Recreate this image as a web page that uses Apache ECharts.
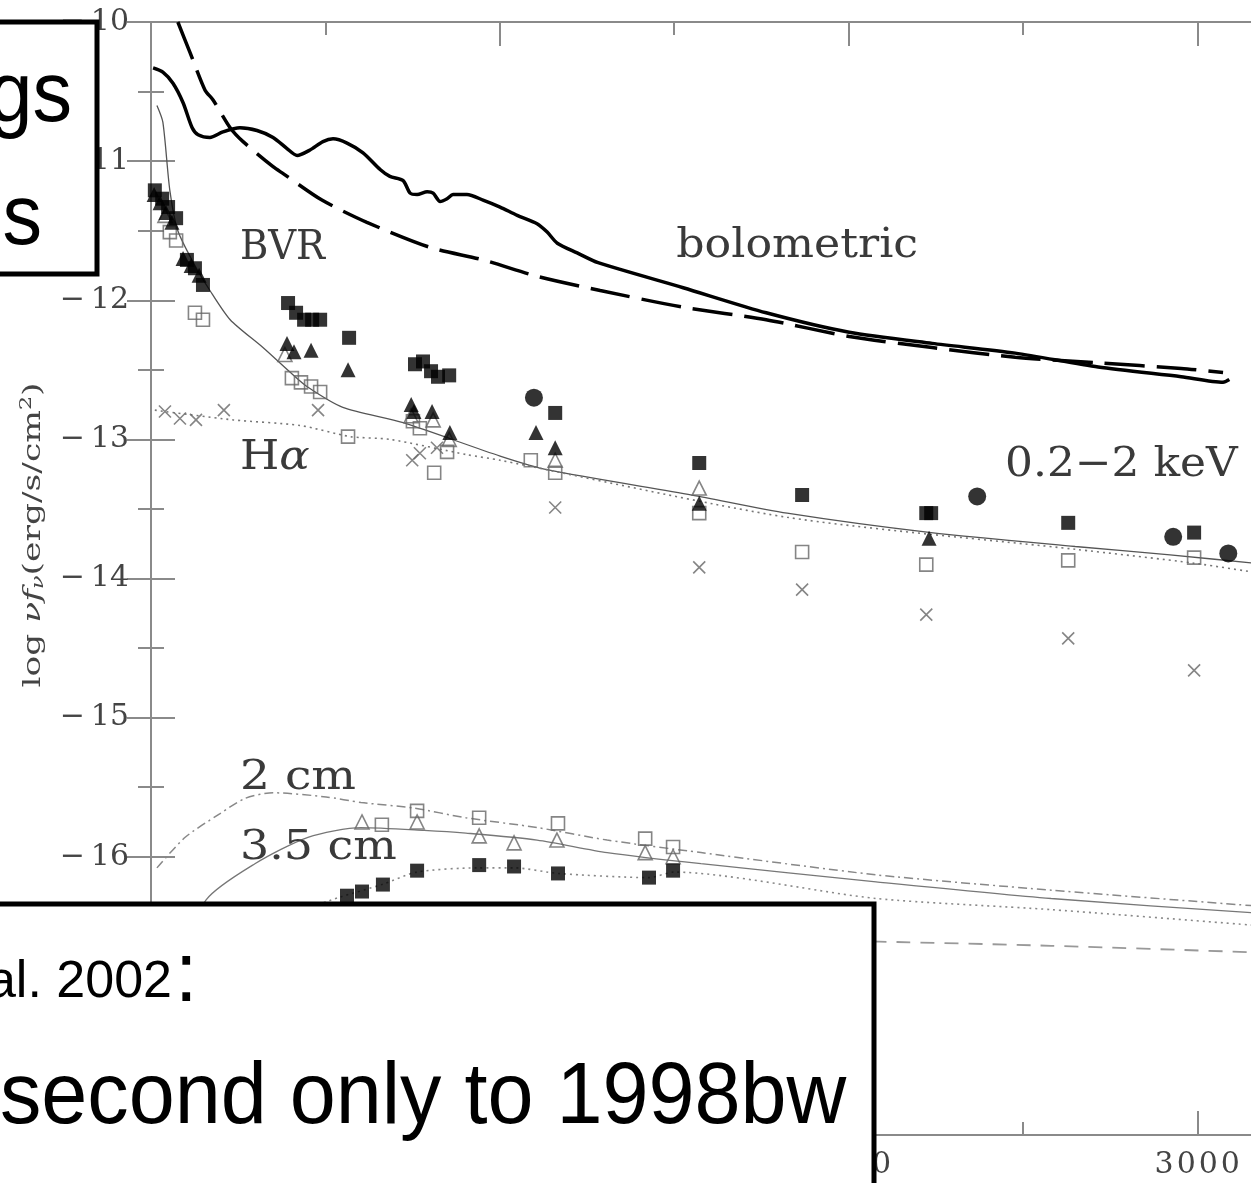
<!DOCTYPE html>
<html><head><meta charset="utf-8">
<script src="https://cdn.jsdelivr.net/npm/echarts@6/dist/echarts.min.js"></script>
<style>html,body{margin:0;padding:0;background:#fff;overflow:hidden}#c{width:1251px;height:1183px;}</style>
</head><body><div id="c"></div><script>
// ---------- data (days since explosion, log nu f_nu) ----------
const boloSolidDay = [6,34,63,92,118,135,169,206,255,304,350,390,419,456,493,522,562,608,657,685,723,743,763,792,809,829,849,866,906,952,1001,1050,1107,1136,1165,1222,1282,1526,1764,2002,2240,2478,2716,2954,3074,3092];
const boloSolidLog = [-10.33,-10.36,-10.44,-10.58,-10.76,-10.81,-10.83,-10.79,-10.76,-10.78,-10.83,-10.91,-10.96,-10.92,-10.86,-10.84,-10.87,-10.94,-11.06,-11.11,-11.14,-11.23,-11.24,-11.22,-11.23,-11.29,-11.27,-11.24,-11.24,-11.28,-11.33,-11.39,-11.45,-11.51,-11.59,-11.66,-11.73,-11.91,-12.09,-12.23,-12.31,-12.38,-12.48,-12.55,-12.59,-12.57];
const boloDashDay = [77,112,155,178,227,264,350,379,490,619,800,952,1110,1288,1526,1764,2002,2240,2478,2716,2954,3074];
const boloDashLog = [-10.0,-10.22,-10.49,-10.56,-10.76,-10.86,-11.04,-11.09,-11.28,-11.44,-11.62,-11.71,-11.83,-11.93,-12.05,-12.14,-12.26,-12.34,-12.41,-12.45,-12.49,-12.52];
const optModelDay = [17,34,54,77,126,169,227,321,400,447,550,723,1001,1139,1551,1824,2237,2650,2922,3200];
const optModelLog = [-10.6,-10.72,-11.21,-11.5,-11.75,-11.93,-12.14,-12.34,-12.52,-12.62,-12.77,-12.88,-13.12,-13.22,-13.4,-13.53,-13.67,-13.77,-13.83,-13.9];
const haModelDay = [11,235,427,571,685,906,1001,1824,2650,2991,3200];
const haModelLog = [-12.79,-12.86,-12.9,-12.98,-13.0,-13.11,-13.15,-13.56,-13.79,-13.89,-13.97];
const cm2ModelDay = [17,98,198,270,350,502,602,754,903,1107,1308,1577,2079,2581,3200];
const cm2ModelLog = [-16.08,-15.86,-15.69,-15.58,-15.54,-15.57,-15.61,-15.65,-15.72,-15.79,-15.88,-15.97,-16.13,-16.24,-16.36];
const cm35ModelDay = [40,158,298,450,602,783,903,1107,1308,1577,2079,2581,3200];
const cm35ModelLog = [-16.95,-16.31,-16.05,-15.86,-15.79,-15.81,-15.83,-15.88,-15.97,-16.05,-16.18,-16.3,-16.41];
const cm6ModelDay = [300,542,662,763,935,1044,1167,1428,1500,2079,2581,3200];
const cm6ModelLog = [-16.5,-16.29,-16.2,-16.11,-16.08,-16.08,-16.12,-16.15,-16.11,-16.3,-16.38,-16.5];
const cm20ModelDay = [900,1500,2088,2581,3200];
const cm20ModelLog = [-16.5,-16.58,-16.61,-16.64,-16.69];

const fSqDay = [11,32,49,72,103,126,149,393,416,439,462,485,568,757,780,803,823,855,1159,1572,1867,2223,2237,2630,2991];
const fSqLog = [-11.21,-11.27,-11.33,-11.41,-11.71,-11.77,-11.89,-12.02,-12.09,-12.14,-12.14,-12.14,-12.27,-12.46,-12.44,-12.51,-12.55,-12.54,-12.81,-13.17,-13.4,-13.53,-13.53,-13.6,-13.67];
const fTriDay = [9,26,43,60,92,115,138,390,410,459,565,746,754,806,857,1104,1159,1572,2231];
const fTriLog = [-11.24,-11.3,-11.37,-11.44,-11.7,-11.75,-11.82,-12.31,-12.37,-12.36,-12.5,-12.75,-12.8,-12.8,-12.95,-12.95,-13.06,-13.46,-13.71];
const oSqDay = [54,72,126,149,404,430,459,485,565,751,771,812,849,1089,1159,1572,1867,2223,2630,2991];
const oSqLog = [-11.51,-11.57,-12.09,-12.14,-12.56,-12.59,-12.62,-12.66,-12.98,-12.87,-12.92,-13.24,-13.09,-13.15,-13.24,-13.53,-13.81,-13.9,-13.87,-13.85];
const oTriDay = [40,384,746,809,855,1159,1572];
const oTriLog = [-11.39,-12.39,-12.83,-12.86,-13.0,-13.15,-13.35];
const haDay = [40,83,129,209,479,749,771,820,1159,1572,1867,2223,2630,2991];
const haLog = [-12.8,-12.85,-12.86,-12.79,-12.79,-13.15,-13.1,-13.06,-13.49,-13.92,-14.08,-14.26,-14.43,-14.66];
const xrayDay = [1098,2369,2931,3089];
const xrayLog = [-12.7,-13.41,-13.7,-13.82];
const r2Day = [662,763,941,1167,1417,1497];
const r2Log = [-15.77,-15.67,-15.72,-15.76,-15.87,-15.93];
const r35Day = [605,763,941,1041,1164,1417,1497];
const r35Log = [-15.75,-15.75,-15.85,-15.9,-15.88,-15.97,-16.0];
const r6Day = [562,605,665,763,941,1041,1167,1428,1497];
const r6Log = [-16.28,-16.25,-16.2,-16.1,-16.06,-16.07,-16.12,-16.15,-16.1];

const xTicks = [0, 1000, 2000, 3000];
const yTicks = [-18, -17, -16, -15, -14, -13, -12, -11, -10];

const labelsText = ['BVR', 'bolometric', 'H\u03b1', '0.2\u22122 keV', '2 cm', '3.5 cm'];
const labelsDay = [255, 1506, 255, 2449, 255, 255];
const labelsLog = [-11.625, -11.61, -13.134, -13.19, -15.435, -15.94];

// ---------- chart ----------
const zip = (a, b) => a.map((v, i) => [v, b[i]]);
const chart = echarts.init(document.getElementById('c'), null, {renderer: 'canvas'});
const AX = '#8a8a8a';
const serifLab = {fontFamily: 'DejaVu Serif', fontSize: 30, color: '#444'};
function xAx(pos, showLabel) {
  return {type: 'value', min: xTicks[0], max: 3200, interval: 1000, position: pos,
    axisLine: {lineStyle: {color: AX, width: 2}},
    axisTick: {inside: true, length: 24, lineStyle: {color: AX, width: 2}},
    minorTick: {show: true, splitNumber: 2, length: 13, lineStyle: {color: AX, width: 2}},
    splitLine: {show: false},
    axisLabel: Object.assign({show: showLabel, margin: 15, showMaxLabel: false,
      formatter: v => xTicks.includes(v) ? String(v).split('').join('\u200a') : ''}, serifLab)};
}
function yAx(pos, showLabel) {
  return {type: 'value', min: yTicks[0], max: yTicks[yTicks.length - 1], interval: 1, position: pos,
    axisLine: {lineStyle: {color: AX, width: 2}},
    axisTick: {inside: true, length: 24, lineStyle: {color: AX, width: 2}},
    minorTick: {show: true, splitNumber: 2, length: 13, lineStyle: {color: AX, width: 2}},
    splitLine: {show: false},
    axisLabel: Object.assign({show: showLabel, margin: 22,
      formatter: v => '\u2212\u2009' + Math.abs(v)}, serifLab)};
}
function line(d, l, style, z) {
  return {type: 'line', data: zip(d, l), showSymbol: false, symbol: 'none', smooth: 0.25,
    lineStyle: style, z: z || 2, silent: true, animation: false};
}
function scat(d, l, symbol, size, itemStyle) {
  return {type: 'scatter', data: zip(d, l), symbol: symbol, symbolSize: size,
    itemStyle: itemStyle, z: 5, silent: true, animation: false};
}
const crossPath = 'path://M0,0L10,10M10,0L0,10';
const openStyle = {color: 'rgba(255,255,255,0)', borderColor: '#666', borderWidth: 1.6};

chart.setOption({
  animation: false,
  grid: {left: 151, top: 22, width: 1116, height: 1113, containLabel: false, outerBoundsMode: 'none'},
  xAxis: [xAx('bottom', true), xAx('top', false)],
  yAxis: [yAx('left', true), yAx('right', false)],
  series: [
    line(boloSolidDay, boloSolidLog, {color: '#000', width: 3.5}, 3),
    line(boloDashDay, boloDashLog, {color: '#000', width: 3.5, type: [40, 12]}, 3),
    line(optModelDay, optModelLog, {color: '#555', width: 1.3}),
    line(haModelDay, haModelLog, {color: '#777', width: 1.6, type: [2, 4]}),
    line(cm2ModelDay, cm2ModelLog, {color: '#888', width: 1.5, type: [9, 4, 2, 4]}),
    line(cm35ModelDay, cm35ModelLog, {color: '#777', width: 1.3}),
    line(cm6ModelDay, cm6ModelLog, {color: '#888', width: 1.6, type: [2, 4]}),
    line(cm20ModelDay, cm20ModelLog, {color: '#999', width: 1.8, type: [14, 10]}),
    scat(oSqDay, oSqLog, 'rect', 13, openStyle),
    scat(oTriDay, oTriLog, 'triangle', 14, openStyle),
    scat(haDay, haLog, crossPath, 12, {color: 'rgba(0,0,0,0)', borderColor: '#666', borderWidth: 1.6}),
    scat(fTriDay, fTriLog, 'triangle', 15, {color: '#000'}),
    scat(fSqDay, fSqLog, 'rect', 14, {color: '#000'}),
    scat(xrayDay, xrayLog, 'circle', 18, {color: '#000'}),
    scat(r2Day, r2Log, 'rect', 13, openStyle),
    scat(r35Day, r35Log, 'triangle', 14, openStyle),
    scat(r6Day, r6Log, 'rect', 14, {color: '#000'})
  ]
});

// annotations placed through the axes
const labelStretch = [0.94, 1.08, 1.1, 1.07, 1.15, 1.12];
const g = [];
labelsText.forEach((t, i) => {
  const p = chart.convertToPixel({gridIndex: 0}, [labelsDay[i], labelsLog[i]]);
  const isHa = t === 'H\u03b1';
  g.push({type: 'text', x: p[0], y: p[1], scaleX: labelStretch[i], z: 20, silent: true,
    style: {text: isHa ? '{n|H}{i|\u03b1}' : t, fill: '#3a3a3a', font: '41px "DejaVu Serif"',
      align: 'left', verticalAlign: 'middle',
      rich: isHa ? {n: {font: '41px "DejaVu Serif"', fill: '#3a3a3a'}, i: {font: 'italic 41px "DejaVu Serif"', fill: '#3a3a3a'}} : undefined}});
});
// y axis title
g.push({type: 'text', x: 33, y: 535, rotation: Math.PI / 2, scaleX: 1.38, z: 20, silent: true,
  style: {text: '{a|log }{i|\u03bdf}{s|\u03bd}{a|(erg/s/cm}{p|2}{a|)}', align: 'center', verticalAlign: 'middle',
    rich: {a: {font: '25px "DejaVu Serif"', fill: '#444'},
      i: {font: 'italic 25px "DejaVu Serif"', fill: '#444'},
      s: {font: 'italic 16px "DejaVu Serif"', fill: '#444', padding: [12, 0, 0, 0]},
      p: {font: '16px "DejaVu Serif"', fill: '#444', padding: [0, 0, 12, 0]}}}});
// slide overlay boxes
g.push({type: 'rect', z: 50, silent: true, shape: {x: -10, y: 22, width: 107, height: 252},
  style: {fill: '#fff', stroke: '#000', lineWidth: 5}});
g.push({type: 'text', z: 51, silent: true, x: 72, y: 0, scaleX: 0.92,
  style: {text: 'gs', x: 0, y: 97, font: '86px "Liberation Sans"', fill: '#000', align: 'right', verticalAlign: 'middle'}});
g.push({type: 'text', z: 51, silent: true, x: 42, y: 0, scaleX: 0.92,
  style: {text: 's', x: 0, y: 220, font: '86px "Liberation Sans"', fill: '#000', align: 'right', verticalAlign: 'middle'}});
g.push({type: 'rect', z: 50, silent: true, shape: {x: -10, y: 904, width: 884, height: 320},
  style: {fill: '#fff', stroke: '#000', lineWidth: 5}});
g.push({type: 'text', z: 51, silent: true, x: 172, y: 0,
  style: {text: 'al. 2002', x: 0, y: 983, font: '52px "Liberation Sans"', fill: '#000', align: 'right', verticalAlign: 'middle'}});
g.push({type: 'text', z: 51, silent: true, x: 175, y: 0, scaleX: 0.94,
  style: {text: ':', x: 0, y: 977, font: '86px "Liberation Sans"', fill: '#000', align: 'left', verticalAlign: 'middle'}});
g.push({type: 'text', z: 51, silent: true, x: 0, y: 0, scaleX: 0.94,
  style: {text: 'second only to 1998bw', x: 0, y: 1099, font: '88px "Liberation Sans"', fill: '#000', align: 'left', verticalAlign: 'middle'}});
chart.setOption({graphic: g});
</script></body></html>
